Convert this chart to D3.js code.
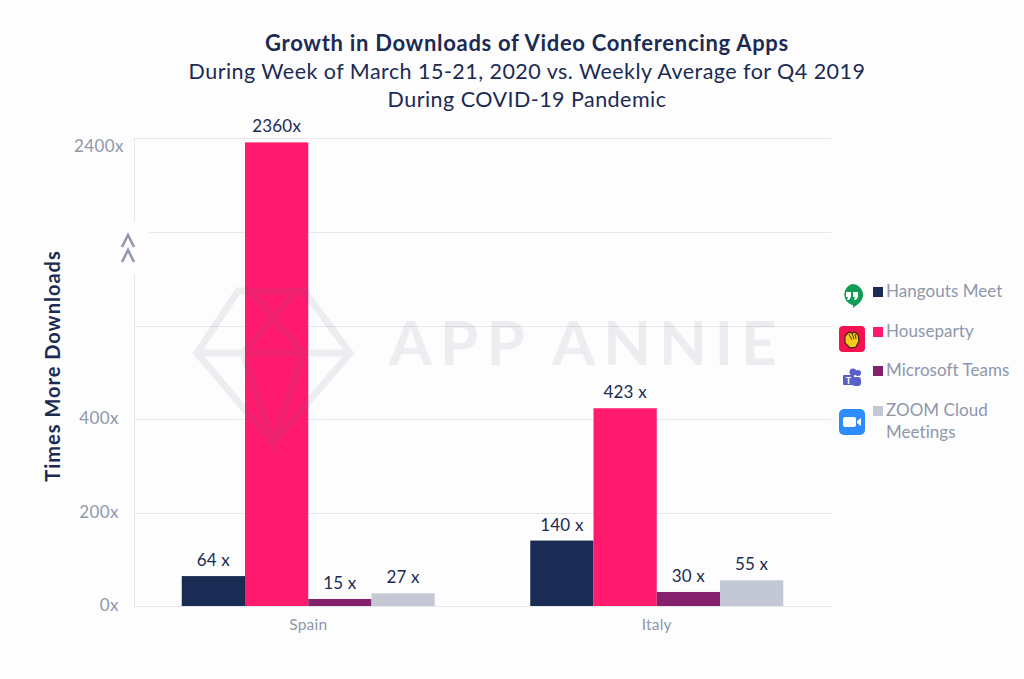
<!DOCTYPE html>
<html>
<head>
    <title>Growth in Downloads of Video Conferencing Apps</title>
    <script src="https://cdnjs.cloudflare.com/ajax/libs/d3/7.8.5/d3.min.js"></script>
    <style>
        html, body { margin: 0; padding: 0; background: #fdfdfd; }
        svg { display: block; font-family: Lato, "Open Sans", Arial, sans-serif; }
        .title { fill: #1b2b54; font-size: 21.5px; text-anchor: middle; letter-spacing: 0.46px; }
        .tick-label { fill: #8f97ac; font-size: 17px; text-anchor: end; letter-spacing: 0.4px; }
        .cat-label { fill: #8f97ac; font-size: 15.5px; text-anchor: middle; letter-spacing: 0.2px; }
        .value-label { fill: #1b2b54; font-size: 17px; text-anchor: middle; letter-spacing: 0.2px; }
        .legend-label { fill: #8f97ac; font-size: 17px; letter-spacing: 0.05px; }
        .grid { stroke: #e6e7ea; stroke-width: 1; shape-rendering: crispEdges; }
    </style>
</head>
<body>
    <svg id="chart" width="1024" height="679"></svg>
    <script>
        const categories = ["Spain", "Italy"];
        const seriesNames = ["Hangouts Meet", "Houseparty", "Microsoft Teams", "ZOOM Cloud Meetings"];
        const seriesColors = ["#1a2c54", "#ff1a6e", "#84206c", "#c3c8d4"];
        const spainValues = [64, 2360, 15, 27];
        const italyValues = [140, 423, 30, 55];
        const valueLabels = [["64 x", "2360x", "15 x", "27 x"], ["140 x", "423 x", "30 x", "55 x"]];
        const gridValues = [0, 200, 400, 600, 800, 2400];
        const tickValues = [0, 200, 400, 2400];
        const titleLines = ["Growth in Downloads of Video Conferencing Apps",
            "During Week of March 15-21, 2020 vs. Weekly Average for Q4 2019",
            "During COVID-19 Pandemic"];

        const svg = d3.select("#chart");
        const left = 134, right = 831;

        // axis is broken: linear up to 800, then squeezed up to 2400
        const y = d3.scaleLinear()
            .domain([0, 800, 2000, 2400])
            .range([606, 232, 182, 138]);

        const x0 = d3.scaleBand()
            .domain(categories)
            .range([left, right])
            .paddingInner(0.274)
            .paddingOuter(0.137);

        const x1 = d3.scaleBand()
            .domain(seriesNames)
            .range([0, x0.bandwidth()]);

        // title
        titleLines.forEach((line, i) => {
            svg.append("text")
                .attr("class", "title")
                .attr("x", 527)
                .attr("y", 51 + i * 28)
                .style("font-weight", i === 0 ? 700 : 400)
                .style("font-size", i === 0 ? "22px" : null)
                .style("letter-spacing", i === 0 ? "0.7px" : null)
                .text(line);
        });

        // grid and axis line
        svg.selectAll("line.h")
            .data(gridValues)
            .join("line")
            .attr("class", "grid h")
            .attr("x1", left)
            .attr("x2", right)
            .attr("y1", d => Math.round(y(d)) + 0.5)
            .attr("y2", d => Math.round(y(d)) + 0.5);

        svg.append("line")
            .attr("class", "grid")
            .attr("x1", left + 0.5)
            .attr("x2", left + 0.5)
            .attr("y1", y(2400))
            .attr("y2", y(0));

        // axis break
        svg.append("rect")
            .attr("x", 120)
            .attr("y", 222)
            .attr("width", 29)
            .attr("height", 52)
            .attr("fill", "#fdfdfd");

        [241, 256].forEach(cy => {
            svg.append("path")
                .attr("d", `M122,${cy + 6}L128,${cy - 6}L134,${cy + 6}`)
                .attr("fill", "none")
                .attr("stroke", "#8f97ac")
                .attr("stroke-width", 2.5);
        });

        svg.selectAll("text.tick-label")
            .data(tickValues)
            .join("text")
            .attr("class", "tick-label")
            .attr("x", d => d === 2400 ? 124 : 119)
            .attr("y", d => y(d) + (d === 2400 ? 14 : 5))
            .text(d => d + "x");

        // bars
        const seriesByCategory = [spainValues, italyValues];
        categories.forEach((cat, c) => {
            const g = svg.append("g").attr("transform", `translate(${x0(cat)},0)`);

            g.selectAll("rect")
                .data(seriesByCategory[c])
                .join("rect")
                .attr("x", (d, i) => x1(seriesNames[i]))
                .attr("y", d => y(d))
                .attr("width", x1.bandwidth())
                .attr("height", d => y(0) - y(d))
                .attr("fill", (d, i) => seriesColors[i]);

            g.selectAll("text")
                .data(seriesByCategory[c])
                .join("text")
                .attr("class", "value-label")
                .attr("x", (d, i) => x1(seriesNames[i]) + x1.bandwidth() / 2)
                .attr("y", d => y(d) - 10)
                .text((d, i) => valueLabels[c][i]);

            svg.append("text")
                .attr("class", "cat-label")
                .attr("x", x0(cat) + x0.bandwidth() / 2)
                .attr("y", 630)
                .text(cat);
        });

        // y axis title
        svg.append("text")
            .attr("transform", "translate(60,366) rotate(-90)")
            .attr("text-anchor", "middle")
            .attr("fill", "#1b2b54")
            .style("font-size", "20px")
            .style("letter-spacing", "1px")
            .style("font-weight", 700)
            .text("Times More Downloads");

        // watermark sits on top of the bars
        const mark = svg.append("g")
            .attr("fill", "none")
            .attr("stroke", "#59657f")
            .attr("stroke-opacity", 0.1)
            .attr("stroke-width", 7);
        mark.append("path")
            .attr("d", "M238,291L304,291L350,353L273,443L197,353ZM197,353L350,353M250,291L303,353L273,443L243,353L296,291");
        svg.append("text")
            .attr("x", 389)
            .attr("y", 365)
            .attr("fill", "#59657f")
            .attr("fill-opacity", 0.1)
            .style("font-size", "62px")
            .style("font-weight", 700)
            .style("letter-spacing", "8px")
            .text("APP ANNIE");

        // legend
        const legendY = [291, 331, 370, 410];
        seriesNames.forEach((name, i) => {
            svg.append("rect")
                .attr("x", 873)
                .attr("y", legendY[i] - 4)
                .attr("width", 10)
                .attr("height", 10)
                .attr("fill", seriesColors[i]);
            const label = svg.append("text")
                .attr("class", "legend-label")
                .attr("x", 886)
                .attr("y", legendY[i] + 6);
            if (name.startsWith("ZOOM")) {
                label.append("tspan").text("ZOOM Cloud");
                label.append("tspan").attr("x", 886).attr("dy", 22).text("Meetings");
            } else {
                label.text(name);
            }
        });

        // app icons
        const hangouts = svg.append("g");
        hangouts.append("path")
            .attr("d", "M852,284a11,11 0 0 1 11,11c0,6 -6,10 -10,13v-3h-1a11,11 0 0 1 0,-21Z")
            .attr("fill", "#0f9d58");
        hangouts.append("path")
            .attr("d", "M846,292h5v5l-2,3h-2l1,-3h-2ZM853,292h5v5l-2,3h-2l1,-3h-2Z")
            .attr("fill", "#fff");

        svg.append("rect")
            .attr("x", 839).attr("y", 326).attr("width", 26).attr("height", 26).attr("rx", 4)
            .attr("fill", "#f5124f");
        svg.append("path")
            .attr("d", "M845,336l4,-4l3,1l3,-1l3,3l1,6l-3,6l-6,1l-5,-5Z")
            .attr("fill", "#f7c81e")
            .attr("stroke", "#3a2a10")
            .attr("stroke-width", 1.2);
        svg.append("path")
            .attr("d", "M849,334l3,6M852,333l2,6M855,334l1,5")
            .attr("fill", "none")
            .attr("stroke", "#3a2a10")
            .attr("stroke-width", 0.9);

        const teams = svg.append("g").attr("fill", "#5b5fc7");
        teams.append("circle").attr("cx", 858).attr("cy", 373).attr("r", 3);
        teams.append("circle").attr("cx", 853).attr("cy", 372).attr("r", 3.5);
        teams.append("rect").attr("x", 852).attr("y", 377).attr("width", 9).attr("height", 9).attr("rx", 3);
        teams.append("rect").attr("x", 843).attr("y", 375).attr("width", 11).attr("height", 10).attr("rx", 1);
        svg.append("text")
            .attr("x", 848.5).attr("y", 384).attr("fill", "#fff")
            .attr("text-anchor", "middle")
            .style("font-size", "9px").style("font-weight", 700)
            .text("T");

        svg.append("rect")
            .attr("x", 839).attr("y", 409).attr("width", 26).attr("height", 26).attr("rx", 5)
            .attr("fill", "#2d8cff");
        svg.append("rect")
            .attr("x", 843).attr("y", 417).attr("width", 13).attr("height", 10).attr("rx", 2)
            .attr("fill", "#fff");
        svg.append("path")
            .attr("d", "M857,421l4,-3v8l-4,-3Z")
            .attr("fill", "#fff");
    </script>
</body>
</html>
